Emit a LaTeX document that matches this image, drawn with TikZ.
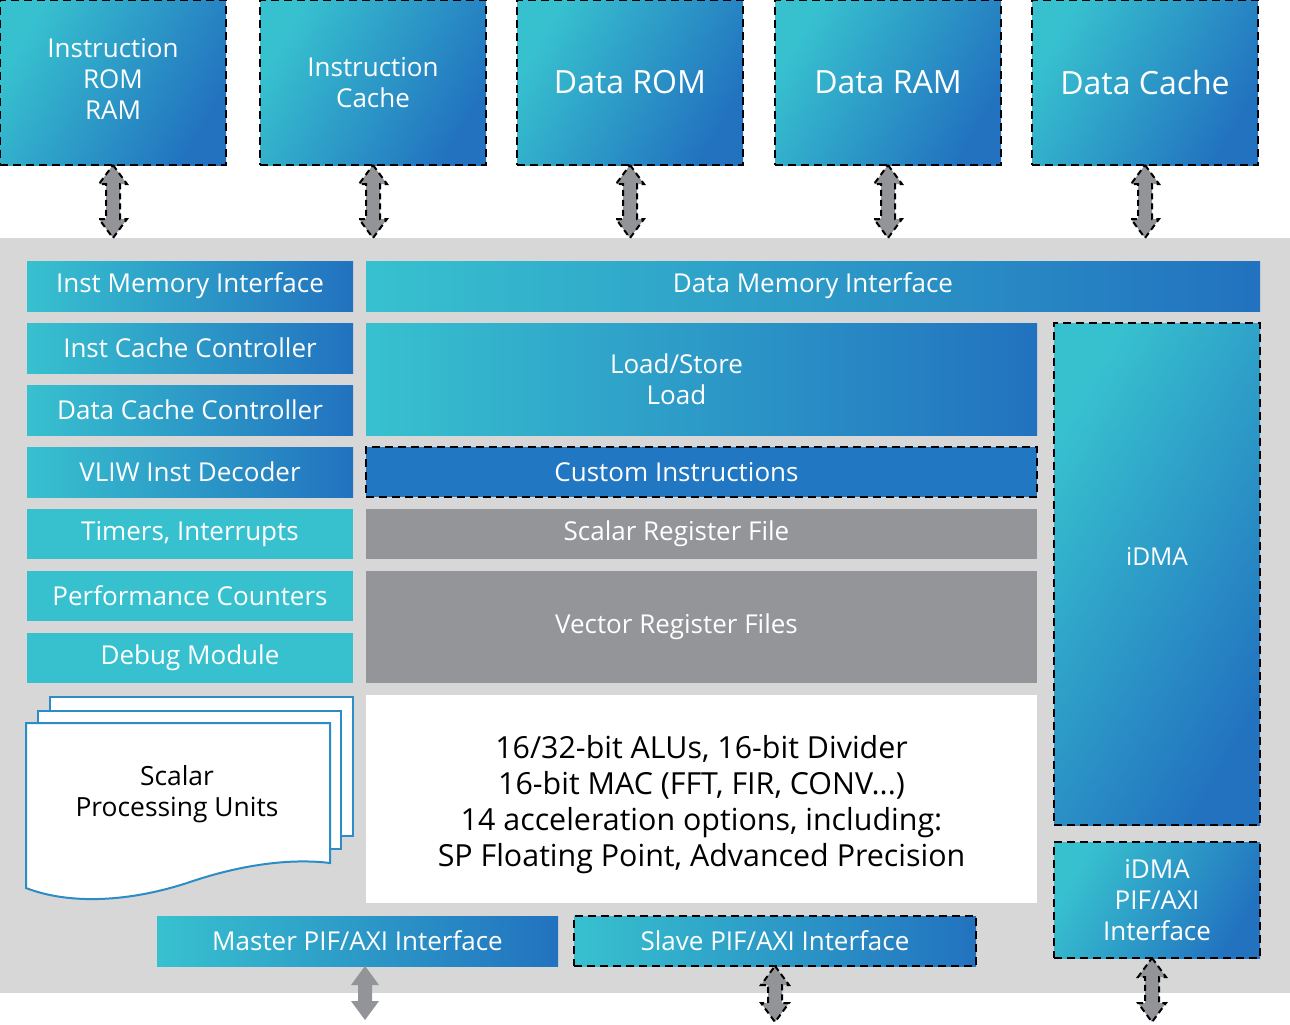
\documentclass[tikz,border=0pt]{standalone}
\usepackage{fontspec}
\setmainfont{Open Sans}
\usetikzlibrary{calc}

\definecolor{cteal}{HTML}{37C1CF}
\definecolor{cmid}{HTML}{27A6CB}
\definecolor{cblue}{HTML}{2272BF}
\definecolor{ccust}{HTML}{2177C1}
\definecolor{creg}{HTML}{939598}
\definecolor{cback}{HTML}{D6D7D6}
\definecolor{carrow}{HTML}{929497}
\definecolor{csheet}{HTML}{2B8CC8}

\tikzset{
  sz/.style 2 args={minimum width=#1*0.5pt, minimum height=#2*0.5pt},
  blk/.style={inner sep=0pt, outer sep=0pt, align=center, text=white, font=\fontsize{13}{15.5}\selectfont},
  grad/.style={blk, left color=cteal, middle color=cmid, right color=cblue},
  diag/.style={grad, shading angle=60},
  flat/.style={blk, fill=cteal},
  gray reg/.style={blk, fill=creg},
  lefttext/.style={label={[blk, xshift=-12.5pt]center:#1}},
  dashbox/.style={draw=black, line width=1pt, dash pattern=on 4pt off 2.5pt},
  busarrow/.style={fill=carrow, draw=black, line width=1pt, dash pattern=on 3pt off 2pt, line join=miter},
  sheet/.style={fill=white, draw=csheet, line width=1pt},
}

\newcommand{\busarrow}[3][]{%
  \draw[busarrow,#1] let \p1=(#2), \p2=(#3) in
    (\x1,\y1) -- (\x1+7pt,\y1-9.5pt) -- (\x1+3.5pt,\y1-9.5pt)
    -- (\x1+3.5pt,\y2+9.5pt) -- (\x1+7pt,\y2+9.5pt) -- (\x1,\y2)
    -- (\x1-7pt,\y2+9.5pt) -- (\x1-3.5pt,\y2+9.5pt)
    -- (\x1-3.5pt,\y1-9.5pt) -- (\x1-7pt,\y1-9.5pt) -- cycle;}

\begin{document}
\begin{tikzpicture}[x=0.5pt, y=-0.5pt]
\useasboundingbox (0,0) rectangle (1290,1024);

\node[fill=cback, sz={1290}{755}, inner sep=0pt, outer sep=0pt] (core) at (645,615.5) {};

\node[diag, dashbox, sz={226}{165}, label={[blk, yshift=2pt]center:Instruction\\ROM\\RAM}] (irom) at (113,82.5) {};
\node[diag, dashbox, sz={226}{165}] (icache) at (373,82.5) {Instruction\\Cache};
\node[diag, dashbox, sz={226}{165}, font=\fontsize{16}{20}\selectfont] (drom) at (630,82.5) {Data ROM};
\node[diag, dashbox, sz={226}{165}, font=\fontsize{16}{20}\selectfont] (dram) at (888,82.5) {Data RAM};
\node[diag, dashbox, sz={226}{165}, font=\fontsize{16}{20}\selectfont] (dcache) at (1145,82.5) {Data Cache};

\foreach \b in {irom,icache,drom,dram,dcache}
  \busarrow{\b.south}{\b.south |- core.north};

\node[grad, sz={326}{50}] (imi) at (190,286) {Inst Memory Interface};
\node[grad, sz={326}{50}] (icc) at (190,348) {Inst Cache Controller};
\node[grad, sz={326}{50}] (dcc) at (190,410) {Data Cache Controller};
\node[grad, sz={326}{50}] (vliw) at (190,472) {VLIW Inst Decoder};
\node[flat, sz={326}{50}] (timers) at (190,534) {Timers, Interrupts};
\node[flat, sz={326}{50}] (perf) at (190,596) {Performance Counters};
\node[flat, sz={326}{50}] (debug) at (190,658) {Debug Module};

\node[grad, sz={894}{50}] (dmi) at (813,286) {Data Memory Interface};
\node[grad, sz={671}{112}, lefttext={Load/Store\\Load}] (ls) at (701.5,379) {};
\node[blk, fill=ccust, dashbox, sz={671}{50}, lefttext={Custom Instructions}] (cust) at (701.5,472) {};
\node[gray reg, sz={671}{50}, lefttext={Scalar Register File}] (srf) at (701.5,534) {};
\node[gray reg, sz={671}{112}, lefttext={Vector Register Files}] (vrf) at (701.5,627) {};
\node[blk, fill=white, sz={671}{208},
  label={[blk, text=black, font=\fontsize{15.2}{18}\selectfont, yshift=-3pt]center:16/32-bit ALUs, 16-bit Divider\\16-bit MAC (FFT, FIR, CONV...)\\14 acceleration options, including:\\SP Floating Point, Advanced Precision}] (alu) at (701.5,799) {};

\node[diag, dashbox, sz={206}{502}, label={[blk, font=\fontsize{12.3}{15.5}\selectfont, yshift=9pt]center:iDMA}] (idma) at (1157,574) {};
\node[diag, dashbox, sz={206}{116}] (idmapif) at (1157,900) {iDMA\\PIF/AXI\\Interface};

\draw[sheet] (50,697) rectangle (353,836);
\draw[sheet] (38,711) rectangle (341,849);
\draw[sheet] (26,723) -- (330,723) -- (330,863) .. controls (290,858) and (240,865) .. (190,882)
  .. controls (130,902) and (70,905) .. (26,888) -- cycle;
\node[blk, text=black, font=\fontsize{13.2}{15.5}\selectfont] (spu) at (177,794) {Scalar\\Processing Units};

\node[grad, sz={401}{50}] (master) at (357.5,941) {Master PIF/AXI Interface};
\node[grad, dashbox, sz={402}{50}] (slave) at (775,941) {Slave PIF/AXI Interface};

\coordinate (mout) at (365,1020);
\coordinate (sout) at (775,1022);
\coordinate (dout) at (1152,1022);
\busarrow[draw=none]{mout |- master.south}{mout};
\busarrow{slave.south}{sout};
\busarrow{dout |- idmapif.south}{dout};
\end{tikzpicture}
\end{document}
